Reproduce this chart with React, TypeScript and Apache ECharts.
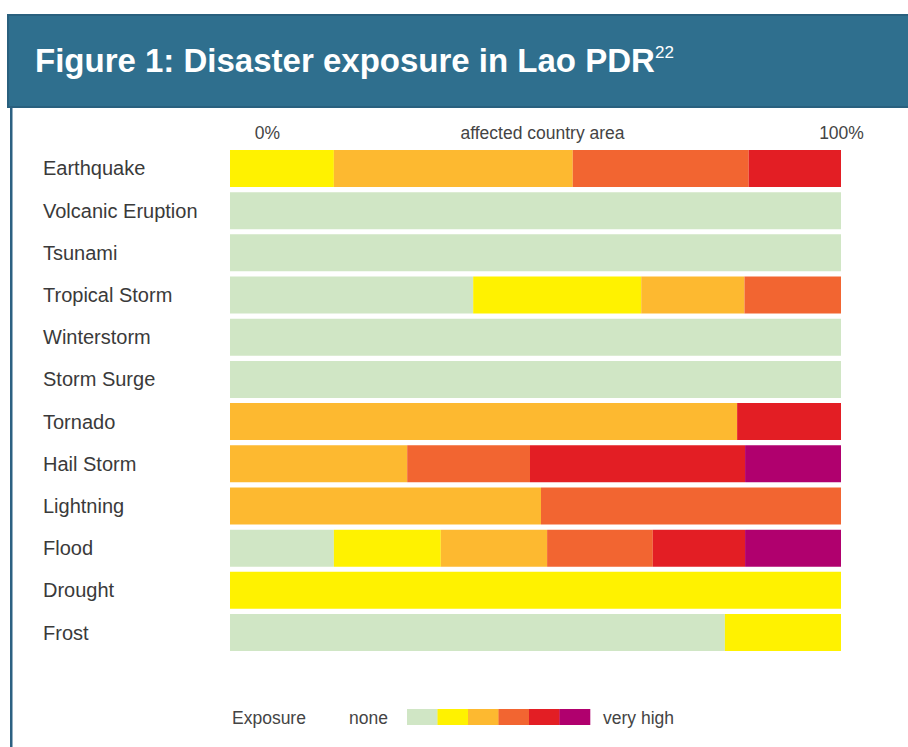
import React, { useEffect, useRef } from "react";
import * as echarts from "echarts";

const hazards = [
  "Earthquake",
  "Volcanic Eruption",
  "Tsunami",
  "Tropical Storm",
  "Winterstorm",
  "Storm Surge",
  "Tornado",
  "Hail Storm",
  "Lightning",
  "Flood",
  "Drought",
  "Frost",
];

const levelNames = ["none", "low", "moderate", "high", "very high", "extreme"];
const levelColors = ["#D0E6C5", "#FFF200", "#FDB930", "#F26531", "#E31E24", "#B0006E"];

// share of affected country area (%) per exposure level, in hazard order
const noneShare = [0, 100, 100, 39.8, 100, 100, 0, 0, 0, 17.0, 0, 81.0];
const lowShare = [17.0, 0, 0, 27.5, 0, 0, 0, 0, 0, 17.5, 100, 19.0];
const moderateShare = [39.1, 0, 0, 16.9, 0, 0, 83.0, 29.0, 50.9, 17.4, 0, 0];
const highShare = [28.8, 0, 0, 15.8, 0, 0, 0, 20.1, 49.1, 17.3, 0, 0];
const veryHighShare = [15.1, 0, 0, 0, 0, 0, 17.0, 35.2, 0, 15.1, 0, 0];
const extremeShare = [0, 0, 0, 0, 0, 0, 0, 15.7, 0, 15.7, 0, 0];

const shares = [noneShare, lowShare, moderateShare, highShare, veryHighShare, extremeShare];

const axisTexts = { left: "0%", middle: "affected country area", right: "100%" };
const legendTexts = { title: "Exposure", low: "none", high: "very high" };

const FONT = "'Liberation Sans', Arial, Helvetica, sans-serif";

export default function App() {
  const ref = useRef<HTMLDivElement>(null);

  useEffect(() => {
    document.body.style.margin = "0";
    if (!ref.current) return;
    const chart = echarts.init(ref.current, null, { renderer: "svg" });

    const swatchX = 407;
    const swatchW = 30.5;
    const legendRects = levelColors.map((c, i) => ({
      type: "rect",
      shape: { x: swatchX + i * swatchW, y: 709, width: swatchW + 0.3, height: 16 },
      style: { fill: c },
      silent: true,
    }));

    const option: any = {
      animation: false,
      backgroundColor: "#ffffff",
      grid: { left: 230, right: 67, top: 147.4, bottom: 93.4, containLabel: false },
      xAxis: { type: "value", min: 0, max: 100, show: false },
      yAxis: {
        type: "category",
        inverse: true,
        data: hazards,
        axisLine: { show: false },
        axisTick: { show: false },
        splitLine: { show: false },
        axisLabel: {
          align: "left",
          margin: 187,
          fontSize: 20,
          color: "#3a3a3a",
          fontFamily: FONT,
        },
      },
      series: shares.map((d, i) => ({
        name: levelNames[i],
        type: "bar",
        stack: "exposure",
        data: d,
        barCategoryGap: "12.3%",
        itemStyle: { color: levelColors[i] },
        silent: true,
      })),
      graphic: [
        {
          type: "rect",
          shape: { x: 8, y: 15, width: 920, height: 92 },
          style: { fill: "#2F6F8E", stroke: "#29607E", lineWidth: 2 },
          silent: true,
        },
        {
          type: "rect",
          shape: { x: 10, y: 107, width: 2.5, height: 650 },
          style: { fill: "#2C6182" },
          silent: true,
        },
        {
          type: "text",
          x: 35,
          y: 60,
          style: {
            text: "Figure 1: Disaster exposure in Lao PDR",
            fill: "#ffffff",
            fontSize: 33,
            fontWeight: "bold",
            fontFamily: FONT,
            verticalAlign: "middle",
            align: "left",
          },
          silent: true,
        },
        {
          type: "text",
          x: 655,
          y: 52,
          style: {
            text: "22",
            fill: "#ffffff",
            fontSize: 17,
            fontFamily: FONT,
            verticalAlign: "middle",
            align: "left",
          },
          silent: true,
        },
        {
          type: "text",
          x: 267.5,
          y: 133,
          style: { text: axisTexts.left, fill: "#444444", fontSize: 17.5, fontFamily: FONT, align: "center", verticalAlign: "middle" },
          silent: true,
        },
        {
          type: "text",
          x: 542.5,
          y: 133,
          style: { text: axisTexts.middle, fill: "#444444", fontSize: 17.5, fontFamily: FONT, align: "center", verticalAlign: "middle" },
          silent: true,
        },
        {
          type: "text",
          x: 841.5,
          y: 133,
          style: { text: axisTexts.right, fill: "#444444", fontSize: 17.5, fontFamily: FONT, align: "center", verticalAlign: "middle" },
          silent: true,
        },
        {
          type: "text",
          x: 232,
          y: 718,
          style: { text: legendTexts.title, fill: "#444444", fontSize: 17.5, fontFamily: FONT, align: "left", verticalAlign: "middle" },
          silent: true,
        },
        {
          type: "text",
          x: 349,
          y: 718,
          style: { text: legendTexts.low, fill: "#444444", fontSize: 17.5, fontFamily: FONT, align: "left", verticalAlign: "middle" },
          silent: true,
        },
        {
          type: "text",
          x: 603,
          y: 718,
          style: { text: legendTexts.high, fill: "#444444", fontSize: 17.5, fontFamily: FONT, align: "left", verticalAlign: "middle" },
          silent: true,
        },
        ...legendRects,
      ],
    };

    chart.setOption(option);
    return () => chart.dispose();
  }, []);

  return (
    <div
      ref={ref}
      style={{ position: "fixed", left: 0, top: 0, width: 908, height: 747 }}
    />
  );
}
